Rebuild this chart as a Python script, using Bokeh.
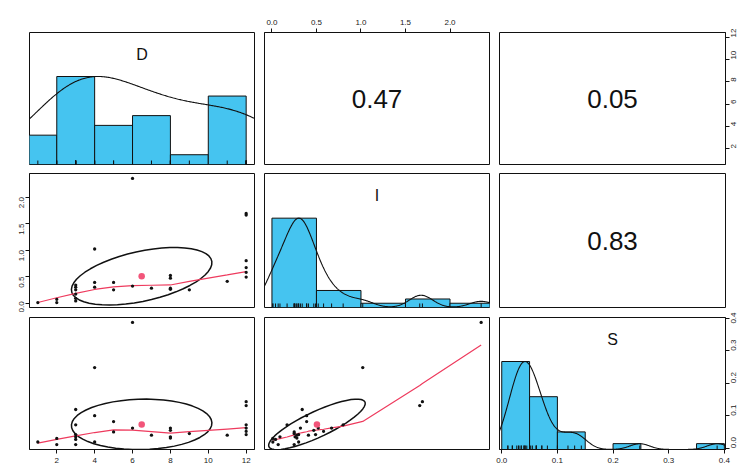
import numpy as np
from bokeh.plotting import figure
from bokeh.layouts import column, row
from bokeh.models import Range1d, LinearAxis, FixedTicker, PrintfTickFormatter
from bokeh.core.properties import value
from bokeh.embed import file_html
from bokeh.resources import INLINE

# ---------------- data ----------------
var_names = ["D", "I", "S"]
D = [1, 2, 2, 3, 3, 3, 3, 3, 3, 4, 4, 4, 5, 5, 6, 6, 7, 8, 8, 8, 8, 9, 11, 12, 12, 12, 12, 12, 12]
I = [0.01, 0.07, 0.01, 0.34, 0.30, 0.25, 0.17, 0.09, 0.04, 1.02, 0.39, 0.30, 0.39, 0.25, 2.35,
     0.32, 0.28, 0.52, 0.47, 0.28, 0.26, 0.25, 0.41, 1.69, 1.66, 0.80, 0.67, 0.58, 0.49]
S = [0.019, 0.011, 0.030, 0.119, 0.042, 0.011, 0.072, 0.035, 0.027, 0.248, 0.100, 0.019, 0.082,
     0.050, 0.387, 0.062, 0.040, 0.062, 0.055, 0.031, 0.035, 0.045, 0.040, 0.143, 0.131, 0.072,
     0.062, 0.052, 0.042]
corr_labels = {(0, 1): "0.47", (0, 2): "0.05", (1, 2): "0.83"}
d_breaks = [0, 2, 4, 6, 8, 10, 12]
i_breaks = [0, 0.5, 1.0, 1.5, 2.0, 2.5]
s_breaks = [0, 0.05, 0.1, 0.15, 0.2, 0.25, 0.3, 0.35, 0.4]
d_ticks = [2, 4, 6, 8, 10, 12]
i_ticks = [0, 0.5, 1.0, 1.5, 2.0]
s_ticks = [0, 0.1, 0.2, 0.3, 0.4]

data = [np.array(D, float), np.array(I, float), np.array(S, float)]
breaks = [d_breaks, i_breaks, s_breaks]
ticks = [d_ticks, i_ticks, s_ticks]
fmts = ["%d", "%.1f", "%.1f"]

HIST_COL = "#45C4F0"
SMOOTH_COL = "#EE3B5E"
DOT_COL = "#F2557A"
INK = "#111111"
FONT = "Liberation Sans"

# ---------------- helpers ----------------
def ext_range(x):
    lo, hi = float(np.min(x)), float(np.max(x))
    sp = hi - lo
    return (lo - 0.04 * sp, hi + 0.04 * sp)

def hist_counts(x, b):
    b = np.asarray(b, float)
    c = []
    for k in range(len(b) - 1):
        if k == 0:
            m = (x >= b[0]) & (x <= b[1])
        else:
            m = (x > b[k]) & (x <= b[k + 1])
        c.append(int(m.sum()))
    return np.array(c, float)

def kde(x, adjust=1.2):
    n = len(x)
    q1, q3 = np.percentile(x, [25, 75])
    h = (q3 - q1) / 1.34
    bw = 1.06 * min(np.std(x, ddof=1), h) * n ** (-0.2) * adjust
    g = np.linspace(x.min() - 3 * bw, x.max() + 3 * bw, 512)
    dens = np.exp(-0.5 * ((g[:, None] - x[None, :]) / bw) ** 2).sum(axis=1)
    return g, dens / dens.max()

def lowess(x, y, f=2 / 3, niter=3):
    o = np.argsort(x, kind="mergesort")
    x = np.asarray(x, float)[o]
    y = np.asarray(y, float)[o]
    n = len(x)
    ns = max(2, min(n, int(f * n + 1e-7)))
    rng = x[-1] - x[0]
    delta = 0.01 * rng
    ys = np.zeros(n)
    rw = np.ones(n)
    for it in range(niter + 1):
        nleft, nright, last, i = 0, ns - 1, -1, 0
        while True:
            while nright < n - 1:
                if x[i] - x[nleft] <= x[nright + 1] - x[i]:
                    break
                nleft += 1
                nright += 1
            xs = x[i]
            h = max(xs - x[nleft], x[nright] - xs)
            j = nleft
            while j < n and (abs(x[j] - xs) <= 0.999 * h or x[j] <= xs):
                j += 1
            sl = slice(nleft, j)
            r = np.abs(x[sl] - xs)
            if h > 0:
                w = np.where(r <= 0.001 * h, 1.0,
                             np.where(r <= 0.999 * h, (1 - (r / h) ** 3) ** 3, 0.0))
            else:
                w = np.ones(j - nleft)
            if it > 0:
                w = w * rw[sl]
            a = w.sum()
            if a <= 0:
                ys[i] = y[i]
            else:
                w = w / a
                if h > 0:
                    am = np.sum(w * x[sl])
                    b = xs - am
                    c = np.sum(w * (x[sl] - am) ** 2)
                    if np.sqrt(c) > 0.001 * rng:
                        w = w * (b / c * (x[sl] - am) + 1)
                ys[i] = np.sum(w * y[sl])
            if last < i - 1:
                den = x[i] - x[last]
                for jj in range(last + 1, i):
                    al = (x[jj] - x[last]) / den
                    ys[jj] = al * ys[i] + (1 - al) * ys[last]
            last = i
            cut = x[last] + delta
            i = last + 1
            while i < n:
                if x[i] > cut:
                    break
                if x[i] == x[last]:
                    ys[i] = ys[last]
                    last = i
                i += 1
            i = max(last + 1, i - 1)
            if last >= n - 1:
                break
        res = y - ys
        if it >= niter:
            break
        ar = np.abs(res)
        cmad = 6 * np.median(ar)
        if cmad < 1e-7 * ar.mean():
            break
        rw = np.where(ar <= 0.001 * cmad, 1.0,
                      np.where(ar <= 0.999 * cmad, (1 - (ar / cmad) ** 2) ** 2, 0.0))
    return x, ys

def ellipse_pts(xm, ym, xs, ys, r, seg=51):
    ang = np.arange(seg + 1) * 2 * np.pi / seg
    uc = np.column_stack([np.cos(ang), np.sin(ang)])
    theta = np.sign(r) / np.sqrt(2) if abs(r) > 0 else 1 / np.sqrt(2)
    shape = np.diag([np.sqrt(1 + r), np.sqrt(1 - r)]) @ np.array([[theta, theta], [-theta, theta]])
    e = uc @ shape
    return e[:, 0] * xs + xm, e[:, 1] * ys + ym

# ---------------- layout ----------------
col_w = [259, 235, 248]
bl = [29, 5, 5]
br = [5, 5, 17]
row_h = [168, 144, 154]
bt = [32, 5, 5]
bb = [4, 5, 17]

ranges = [ext_range(v) for v in data]

def make_fig(ri, ci, xr, yr):
    p = figure(width=col_w[ci], height=row_h[ri],
               x_range=Range1d(*xr), y_range=Range1d(*yr),
               output_backend="svg", toolbar_location=None,
               x_axis_location=None, y_axis_location=None,
               min_border_left=bl[ci], min_border_right=br[ci],
               min_border_top=bt[ri], min_border_bottom=bb[ri])
    p.grid.visible = False
    p.outline_line_color = INK
    p.outline_line_width = 1
    p.background_fill_color = "white"
    p.border_fill_color = "white"
    return p

def add_axis(p, side, tk, fmt, range_name=None):
    kw = {}
    if range_name is not None:
        kw["y_range_name"] = range_name
    ax = LinearAxis(ticker=FixedTicker(ticks=tk), formatter=PrintfTickFormatter(format=fmt), **kw)
    ax.major_tick_in = 0
    ax.major_tick_out = 4
    ax.minor_tick_line_color = None
    ax.major_label_standoff = 4
    ax.major_label_text_font = FONT
    ax.major_label_text_font_size = "8px"
    ax.major_label_text_color = "#222222"
    ax.axis_line_color = INK
    ax.major_tick_line_color = INK
    if side in ("left", "right"):
        ax.major_label_orientation = np.pi / 2
    p.add_layout(ax, side)

figs = [[None] * 3 for _ in range(3)]
nvar = 3
for ri in range(nvar):
    for ci in range(nvar):
        if ri == ci:
            x = data[ri]
            p = make_fig(ri, ci, ranges[ci], (0, 1.5))
            cnt = hist_counts(x, breaks[ri])
            b = np.asarray(breaks[ri], float)
            p.quad(left=b[:-1], right=b[1:], bottom=0, top=cnt / cnt.max(),
                   fill_color=HIST_COL, line_color=INK, line_width=1)
            g, dn = kde(x)
            p.line(g, dn, line_color=INK, line_width=1.1)
            p.segment(x0=x, y0=0, x1=x, y1=0.045, line_color=INK, line_width=1)
            xc = sum(ranges[ci]) / 2
            p.text(x=[xc], y=[1.25], text=[var_names[ri]], text_align="center",
                   text_baseline="middle", text_font=value(FONT), text_font_size="16px",
                   text_color=INK)
        elif ri < ci:
            p = make_fig(ri, ci, ranges[ci], ranges[ri])
            xc = sum(ranges[ci]) / 2
            yc = sum(ranges[ri]) / 2
            p.text(x=[xc], y=[yc], text=[corr_labels[(ri, ci)]], text_align="center",
                   text_baseline="middle", text_font=value(FONT), text_font_size="26px",
                   text_color=INK)
        else:
            x = data[ci]
            y = data[ri]
            p = make_fig(ri, ci, ranges[ci], ranges[ri])
            r = float(corr_labels[(ci, ri)])
            ex, ey = ellipse_pts(x.mean(), y.mean(), x.std(ddof=1), y.std(ddof=1), r)
            p.line(ex, ey, line_color=INK, line_width=1.5)
            lx, ly = lowess(x, y)
            p.line(lx, ly, line_color=SMOOTH_COL, line_width=1.2)
            p.scatter(x, y, size=3.3, fill_color=INK, line_color=None)
            p.scatter([x.mean()], [y.mean()], size=6.5, fill_color=DOT_COL, line_color=None)
        figs[ri][ci] = p

# axes (R pairs convention)
add_axis(figs[0][1], "above", ticks[1], fmts[1])
add_axis(figs[0][2], "right", ticks[0], fmts[0])
add_axis(figs[1][0], "left", ticks[1], fmts[1])
add_axis(figs[2][0], "below", ticks[0], fmts[0])
add_axis(figs[2][2], "below", ticks[2], fmts[2])
figs[2][2].extra_y_ranges = {"s": Range1d(*ranges[2])}
add_axis(figs[2][2], "right", ticks[2], fmts[2], range_name="s")

layout = column(*[row(*figs[r], spacing=0) for r in range(3)], spacing=0)

with open("out.html", "w") as fh:
    fh.write(file_html(layout, INLINE))
